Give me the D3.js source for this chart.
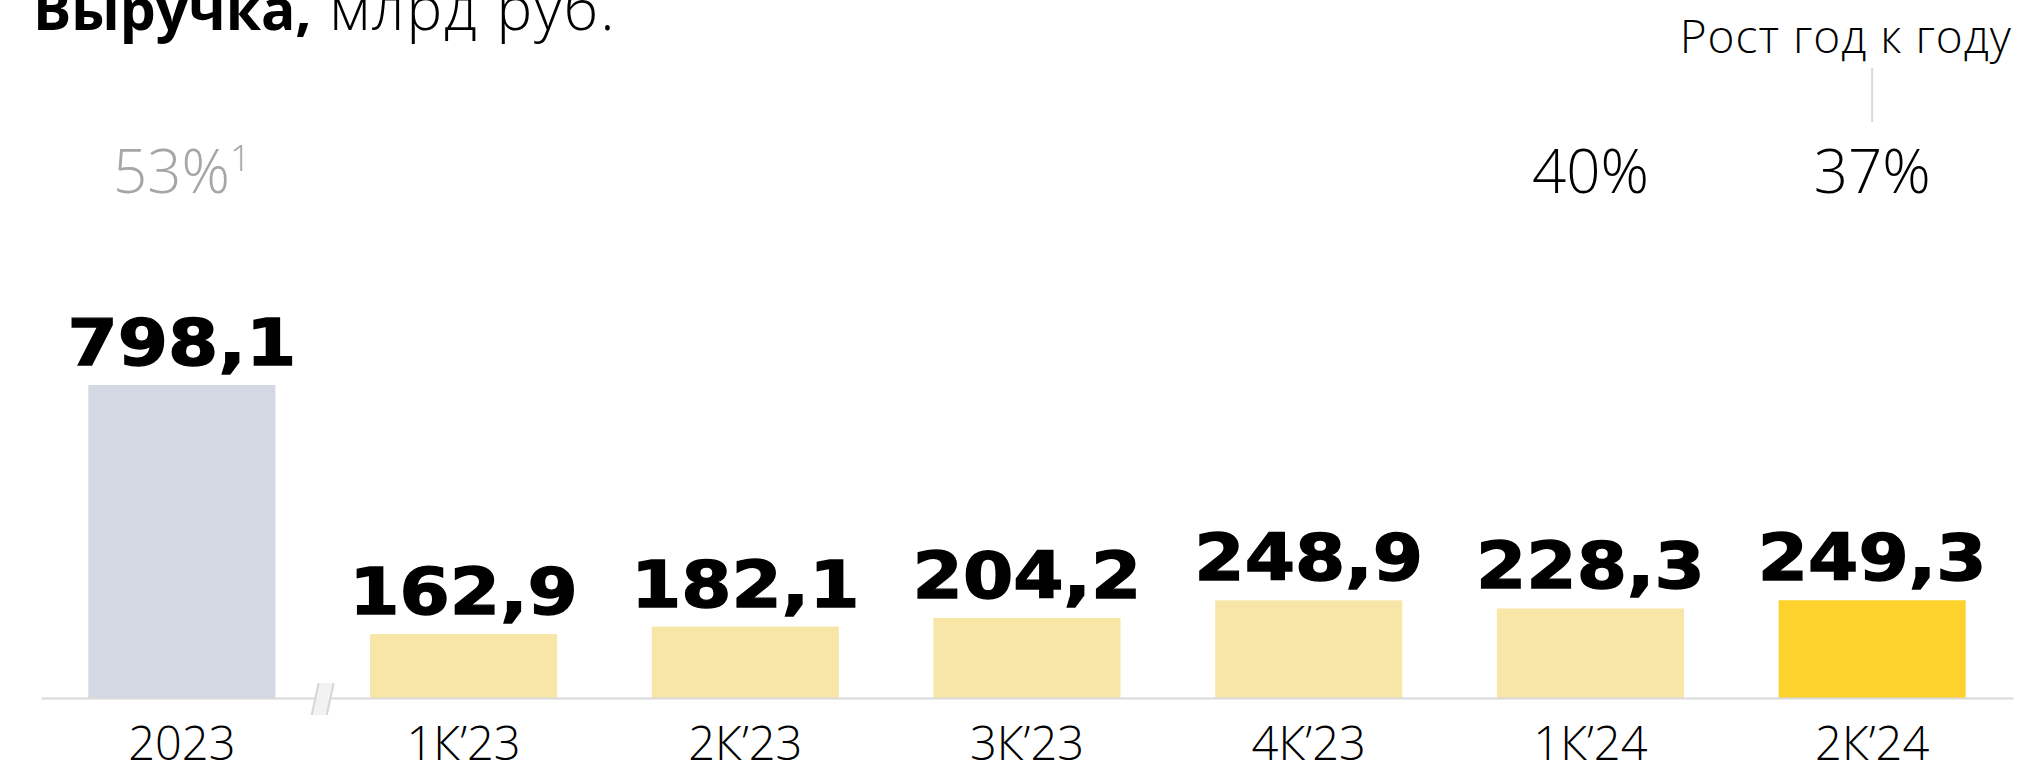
<!DOCTYPE html>
<html>
<head>
<meta charset="utf-8">
<script src="https://cdn.jsdelivr.net/npm/d3@7"></script>
<style>
  body { margin: 0; background: #fff; }
  svg { display: block; }
</style>
</head>
<body>
<div id="chart"></div>
<script>
// Chart data
const categories = ["2023", "1К’23", "2К’23", "3К’23", "4К’23", "1К’24", "2К’24"];
const revenue = [798.1, 162.9, 182.1, 204.2, 248.9, 228.3, 249.3];
const growth = [53, null, null, null, null, 40, 37];
const growthNotes = ["1", "", "", "", "", "", ""];
const barColors = ["#d3d8e2", "#f7e6a5", "#f7e6a5", "#f7e6a5", "#f7e6a5", "#f7e6a5", "#fdd22c"];

const svgWidth = 2023;
const svgHeight = 770;
const baseY = 698;

const svg = d3.select("#chart")
  .append("svg")
  .attr("width", svgWidth)
  .attr("height", svgHeight);

const ru = d3.formatLocale({ decimal: ",", thousands: " ", grouping: [3], currency: ["", " ₽"] });
const fmt = ru.format(".1f");

// Scales
const x = d3.scaleBand()
  .domain(categories)
  .range([41, 2013])
  .paddingInner(0.336)
  .paddingOuter(0.168);

const y = d3.scaleLinear()
  .domain([0, 798.1])
  .range([baseY, 385]);

// Title
const title = svg.append("text")
  .attr("x", 33)
  .attr("y", 30)
  .style("font-family", "'Open Sans', sans-serif")
  .attr("fill", "#000");
title.append("tspan").style("font-weight", 700).style("font-size", "57px").text("Выручка,");
title.append("tspan").style("font-weight", 300).style("font-size", "60px")
  .style("letter-spacing", "2px").text(" млрд руб.");

// Bars
svg.selectAll("rect.bar")
  .data(revenue)
  .enter()
  .append("rect")
  .attr("class", "bar")
  .attr("x", (d, i) => x(categories[i]))
  .attr("y", d => y(d))
  .attr("width", x.bandwidth())
  .attr("height", d => baseY - y(d))
  .attr("fill", (d, i) => barColors[i]);

// Axis
const bottomAxis = d3.axisBottom(x).tickSize(0).tickSizeOuter(0).tickPadding(29);
const axisG = svg.append("g")
  .attr("transform", `translate(0, ${baseY})`)
  .call(bottomAxis);
axisG.select(".domain").attr("stroke", "#d9d9d9").attr("stroke-width", 2);
axisG.selectAll("text")
  .style("font-family", "'Open Sans', sans-serif")
  .style("font-weight", 300)
  .style("font-size", "47px")
  .attr("fill", "#000");

// Axis break between year and quarters
const bx = (x(categories[0]) + x.bandwidth() + x(categories[1])) / 2;
svg.append("path")
  .attr("d", `M${bx - 4},${baseY - 15} L${bx + 11},${baseY - 15} L${bx + 4},${baseY + 17} L${bx - 11},${baseY + 17} Z`)
  .attr("fill", "#f2f2f4");
svg.append("path")
  .attr("d", `M${bx - 4},${baseY - 15} L${bx - 11},${baseY + 17} M${bx + 11},${baseY - 15} L${bx + 4},${baseY + 17}`)
  .attr("stroke", "#d6d6d6")
  .attr("stroke-width", 2)
  .attr("fill", "none");

// Value labels
svg.selectAll("text.value")
  .data(revenue)
  .enter()
  .append("text")
  .attr("class", "value")
  .attr("x", (d, i) => x(categories[i]) + x.bandwidth() / 2)
  .attr("y", d => y(d) - 20)
  .attr("text-anchor", "middle")
  .style("font-family", "'DejaVu Sans', sans-serif")
  .style("font-weight", 700)
  .style("font-size", "64px")
  .attr("fill", "#000")
  .attr("stroke", "#000")
  .attr("stroke-width", 1.4)
  .text(d => fmt(d))
  .each(function () {
    const w = this.getComputedTextLength();
    d3.select(this).attr("textLength", w * 1.13).attr("lengthAdjust", "spacingAndGlyphs");
  });

// Growth labels
const gl = svg.selectAll("text.growth")
  .data(growth)
  .enter()
  .filter(d => d !== null)
  .append("text")
  .attr("class", "growth")
  .attr("x", d => x(categories[growth.indexOf(d)]) + x.bandwidth() / 2)
  .attr("y", 193)
  .attr("text-anchor", "middle")
  .style("font-family", "'Open Sans', sans-serif")
  .style("font-weight", 300)
  .style("font-size", "60px")
  .attr("fill", d => growthNotes[growth.indexOf(d)] ? "#a6a6a6" : "#000");
gl.append("tspan").text(d => d + "%");
gl.append("tspan")
  .attr("dy", -22)
  .style("font-size", "36px")
  .text(d => growthNotes[growth.indexOf(d)]);

// Legend note, top right
const lastX = x(categories[categories.length - 1]) + x.bandwidth() / 2;
svg.append("text")
  .attr("x", 2012)
  .attr("y", 53)
  .attr("text-anchor", "end")
  .style("font-family", "'Open Sans', sans-serif")
  .style("font-weight", 300)
  .style("font-size", "46px")
  .style("letter-spacing", "1px")
  .attr("fill", "#000")
  .text("Рост год к году");
svg.append("line")
  .attr("x1", lastX)
  .attr("x2", lastX)
  .attr("y1", 68)
  .attr("y2", 122)
  .attr("stroke", "#d9d9d9")
  .attr("stroke-width", 2);
</script>
</body>
</html>
